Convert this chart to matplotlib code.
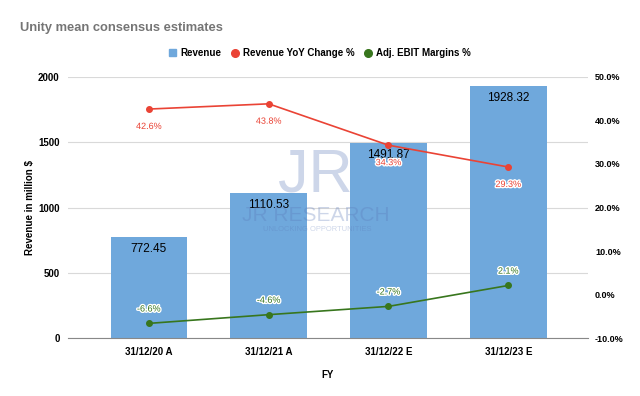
import numpy as np
import matplotlib.pyplot as plt
from matplotlib.lines import Line2D
from matplotlib.patches import Patch
import matplotlib.patheffects as pe

plt.rcParams['font.family'] = ['Liberation Sans', 'DejaVu Sans']

years = ['31/12/20 A', '31/12/21 A', '31/12/22 E', '31/12/23 E']
revenue = [772.45, 1110.53, 1491.87, 1928.32]
yoy = [42.6, 43.8, 34.3, 29.3]
ebit = [-6.6, -4.6, -2.7, 2.1]

blue = '#6fa8dc'
red = '#ea4335'
green = '#38761d'

fig = plt.figure(figsize=(6.4, 3.96), dpi=100)
ax = fig.add_axes([0.106, 0.146, 0.813, 0.66])
x = np.arange(len(years))

ax.bar(x, revenue, width=0.64, color=blue, zorder=2)
ax.set_xlim(-0.677, 3.667)
ax.set_ylim(0, 2000)
ax.set_yticks([0, 500, 1000, 1500, 2000])
ax.grid(axis='y', color='#d9d9d9', linewidth=0.8, zorder=0)
for s in ['top', 'right', 'left']:
    ax.spines[s].set_visible(False)
ax.spines['bottom'].set_color('#888888')
ax.tick_params(axis='both', length=0, labelsize=7, pad=6)
ax.set_xticks(x)
ax.set_xticklabels(years, fontweight='bold')
for lab in ax.get_yticklabels():
    lab.set_fontweight('bold')
ax.set_ylabel('Revenue in million $', fontsize=7, fontweight='bold', labelpad=2)
ax.set_xlabel('FY', fontsize=7, fontweight='bold', labelpad=10)

for xi, v in zip(x, revenue):
    ax.text(xi, v - 45, f'{v:.2f}', ha='center', va='top', fontsize=8.5,
            color='black', zorder=5)

ax2 = ax.twinx()
ax2.set_ylim(-10, 50)
ax2.set_yticks(np.arange(-10, 51, 10))
ax2.set_yticklabels([f'{t:.1f}%' for t in np.arange(-10, 51, 10)], fontweight='bold')
ax2.tick_params(length=0, labelsize=6.5, pad=5)
for s in ['top', 'right', 'left', 'bottom']:
    ax2.spines[s].set_visible(False)

# watermark (over the bars, under the lines)
wm = dict(transform=fig.transFigure, ha='center', va='center',
          color='#5a78b8', alpha=0.3, zorder=3)
ax2.text(0.492, 0.555, 'JR', fontsize=44, fontweight='light', **wm)
ax2.text(0.4935, 0.456, 'JR RESEARCH', fontsize=15, **wm)
ax2.text(0.495, 0.42, 'UNLOCKING OPPORTUNITIES', fontsize=5.4, **wm)

ax2.plot(x, yoy, color=red, marker='o', markersize=4, linewidth=1.2, zorder=4)
ax2.plot(x, ebit, color=green, marker='o', markersize=4, linewidth=1.2, zorder=4)
outline = [pe.withStroke(linewidth=2, foreground='white')]
for xi, v in zip(x, yoy):
    ax2.text(xi, v - 4.0, f'{v:.1f}%', ha='center', va='center', fontsize=6.5,
             color=red, path_effects=outline, zorder=5)
for xi, v in zip(x, ebit):
    ax2.text(xi, v + 3.3, f'{v:.1f}%', ha='center', va='center', fontsize=6.5,
             color=green, path_effects=outline, zorder=5)

fig.text(0.031, 0.93, 'Unity mean consensus estimates', fontsize=9.3,
         fontweight='bold', color='#757575', va='center')

handles = [Patch(color=blue),
           Line2D([], [], color=red, marker='o', linestyle='', markersize=5.5),
           Line2D([], [], color=green, marker='o', linestyle='', markersize=5.5)]
labels = ['Revenue', 'Revenue YoY Change %', 'Adj. EBIT Margins %']
leg = fig.legend(handles, labels, loc='center', bbox_to_anchor=(0.5, 0.866),
                 ncol=3, frameon=False, prop={'size': 7, 'weight': 'bold'},
                 handlelength=0.7, handletextpad=0.5, columnspacing=1.0)

fig.savefig('out.png', dpi=100)
